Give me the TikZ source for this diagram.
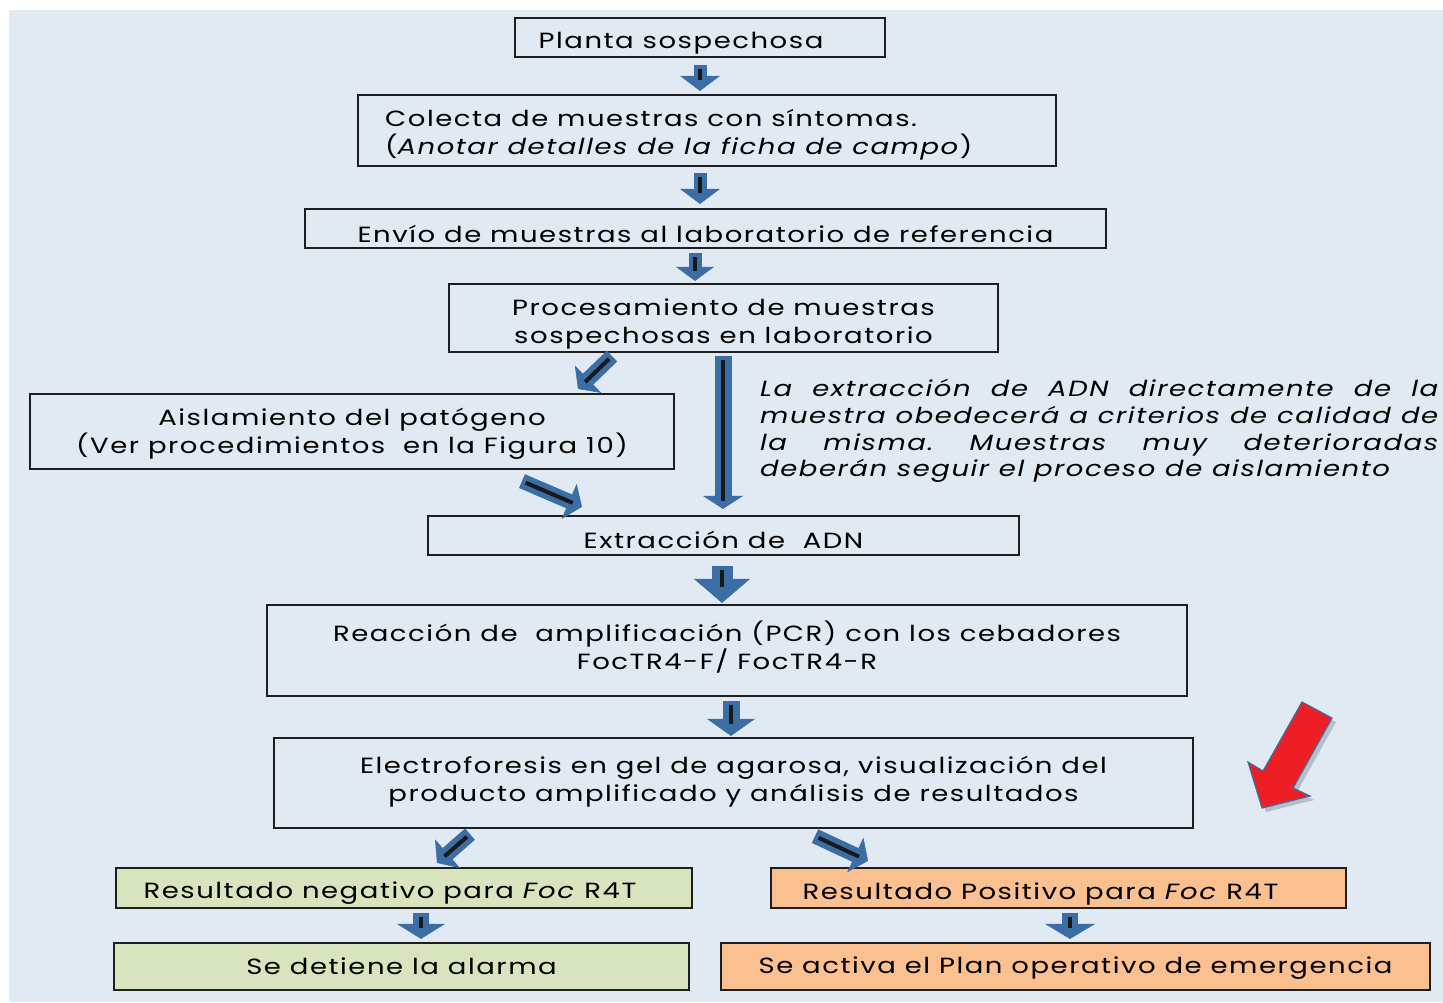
\documentclass[tikz,border=0pt]{standalone}
\usepackage{fontspec}
\setmainfont{Poppins}[FakeStretch=1.25, LetterSpace=7]
\usetikzlibrary{arrows.meta,calc}
\definecolor{bg}{RGB}{225,233,243}
\definecolor{ablue}{RGB}{58,110,165}
\definecolor{gfill}{RGB}{215,228,189}
\definecolor{ofill}{RGB}{250,192,144}
\definecolor{rred}{RGB}{237,30,36}
\definecolor{boxline}{RGB}{30,30,30}
% start, end, shaft width, head width, head length, black shorten end
\newcommand\blk[6]{%
  \draw[ablue, line width=#3, -{Triangle[width=#4,length=#5,line width=0.5pt]}] (#1) -- (#2);
  \draw[black!90, line width=4pt, shorten <=4pt, shorten >=#6] (#1) -- (#2);}
\frenchspacing
\begin{document}
\begin{tikzpicture}[x=1pt,y=-1pt,
  frame/.style={draw=boxline, line width=2.2pt, inner sep=0pt},
  txt/.style={inner sep=0pt, align=center, font=\fontsize{22}{28}\selectfont},
  ]
\useasboundingbox (0,0) rectangle (1443,1002);
\fill[bg] (9,10) rectangle (1443,1002);

% frames
\node[frame, minimum width=370, minimum height=39] (n1) at (700,37.5) {};
\node[frame, minimum width=698, minimum height=71] (n2) at (707,130.5) {};
\node[frame, minimum width=801, minimum height=39] (n3) at (705.5,228.5) {};
\node[frame, minimum width=549, minimum height=68] (n4) at (723.5,318) {};
\node[frame, minimum width=644, minimum height=75] (n5) at (352,431.5) {};
\node[frame, minimum width=591, minimum height=39] (n6) at (723.5,535.5) {};
\node[frame, minimum width=920, minimum height=91] (n7) at (727,650.5) {};
\node[frame, minimum width=919, minimum height=90] (n8) at (733.5,783) {};
\node[frame, minimum width=576, minimum height=40, fill=gfill] (n9) at (404,888) {};
\node[frame, minimum width=575, minimum height=40, fill=ofill] (n10) at (1058.5,888) {};
\node[frame, minimum width=575, minimum height=47, fill=gfill] (n11) at (401.5,966.5) {};
\node[frame, minimum width=709, minimum height=47, fill=ofill] (n12) at (1075.5,966.5) {};

% texts
\node[txt] (t1) at ($(n1)+(-19,6)$) {Planta sospechosa};
\node[txt, align=left, anchor=west] (t2) at ($(n2.west)+(28,4)$)
  {Colecta de muestras con síntomas.\\(\textit{Anotar detalles de la ficha de campo})};
\node[txt] (t3) at ($(n3)+(0,5)$) {Envío de muestras al laboratorio de referencia};
\node[txt] (t4) at ($(n4)+(0,5.5)$) {Procesamiento de muestras\\sospechosas en laboratorio};
\node[txt] (t5) at ($(n5)+(0,2)$) {Aislamiento del patógeno\\(Ver procedimientos\ \ en la Figura 10)};
\node[txt] (t6) at ($(n6)+(0,4)$) {Extracción de\ \ ADN};
\node[txt] (t7) at ($(n7)+(0,-3.5)$)
  {Reacción de\ \ amplificación (PCR) con los cebadores\\FocTR4-F/ FocTR4-R};
\node[txt] (t8) at ($(n8)+(0,-1)$)
  {Electroforesis en gel de agarosa, visualización del\\producto amplificado y análisis de resultados};
\node[txt] (t9) at ($(n9)+(-14,5)$) {Resultado negativo para \textit{Foc} R4T};
\node[txt] (t10) at ($(n10)+(-18,6)$) {Resultado Positivo para \textit{Foc} R4T};
\node[txt] (t11) at ($(n11)+(0,0)$) {Se detiene la alarma};
\node[txt] (t12) at ($(n12)+(0,2)$) {Se activa el Plan operativo de emergencia};

\node[anchor=north west, inner sep=0pt, text width=678, align=justify,
  font=\fontsize{22}{26.7}\selectfont\itshape] (note) at (760,379)
  {La extracción de ADN directamente de la\linebreak
   muestra obedecerá a criterios de calidad de\linebreak
   la misma. Muestras muy deterioradas\linebreak
   deberán seguir el proceso de aislamiento};

% arrow end points
\coordinate (a1s) at ($(n1.south)+(0,7)$);     \coordinate (a1e) at ($(n2.north)+(-7,-3)$);
\coordinate (a2s) at ($(n2.south)+(-7,6)$);    \coordinate (a2e) at ($(n3.north)+(-5.5,-4)$);
\coordinate (a3s) at ($(n3.south)+(-10.5,4)$); \coordinate (a3e) at ($(n4.north)+(-28.5,-2)$);
\coordinate (a4s) at ($(n4.south)+(-111.5,3)$);\coordinate (a4e) at ($(n5.north)+(226,-4)$);
\coordinate (a5s) at ($(n4.south)+(-0.5,3)$);  \coordinate (a5e) at ($(n6.north)+(-0.5,-6)$);
\coordinate (a6s) at ($(n5.south)+(170,11)$);  \coordinate (a6e) at ($(n6.north)+(-141.5,-8)$);
\coordinate (a7s) at ($(n6.south)+(-1.5,10)$); \coordinate (a7e) at ($(n7.north)+(-5,-1)$);
\coordinate (a8s) at ($(n7.south)+(4,4)$);     \coordinate (a8e) at ($(n8.north)+(-2.5,-1)$);
\coordinate (a9s) at ($(n8.south)+(-263.5,5)$);\coordinate (a9e) at ($(n9.north)+(33,-4)$);
\coordinate (a10s) at ($(n8.south)+(81.5,7)$); \coordinate (a10e) at ($(n10.north)+(-190.5,-6)$);
\coordinate (a11s) at ($(n9.south)+(17,4)$);   \coordinate (a11e) at ($(n11.north)+(19.5,-3)$);
\coordinate (a12s) at ($(n10.south)+(11.5,4)$);\coordinate (a12e) at ($(n12.north)+(-5.5,-3)$);

\blk{a1s}{a1e}{13pt}{40pt}{15pt}{11pt}
\blk{a2s}{a2e}{13pt}{40pt}{15pt}{11pt}
\blk{a3s}{a3e}{13pt}{38pt}{14pt}{10pt}
\blk{a4s}{a4e}{15pt}{38pt}{14pt}{10pt}
\blk{a5s}{a5e}{17pt}{40pt}{13pt}{8pt}
\blk{a6s}{a6e}{15pt}{38pt}{14pt}{10pt}
\blk{a7s}{a7e}{21pt}{56pt}{24pt}{16pt}
\blk{a8s}{a8e}{17pt}{48pt}{17pt}{12pt}
\blk{a9s}{a9e}{15pt}{38pt}{14pt}{10pt}
\blk{a10s}{a10e}{15pt}{38pt}{14pt}{10pt}
\blk{a11s}{a11e}{16pt}{48pt}{15pt}{11pt}
\blk{a12s}{a12e}{16pt}{50pt}{15pt}{11pt}

% red arrow
\fill[black, opacity=0.18] (1306,706) -- (1336,722) -- (1297,792) -- (1314,800)
  -- (1266,812) -- (1252,766) -- (1267,775) -- cycle;
\draw[ablue, line width=1.2pt, fill=rred] (1302,702) -- (1332,718) -- (1293,788)
  -- (1310,796) -- (1262,808) -- (1248,762) -- (1263,771) -- cycle;
\end{tikzpicture}
\end{document}
